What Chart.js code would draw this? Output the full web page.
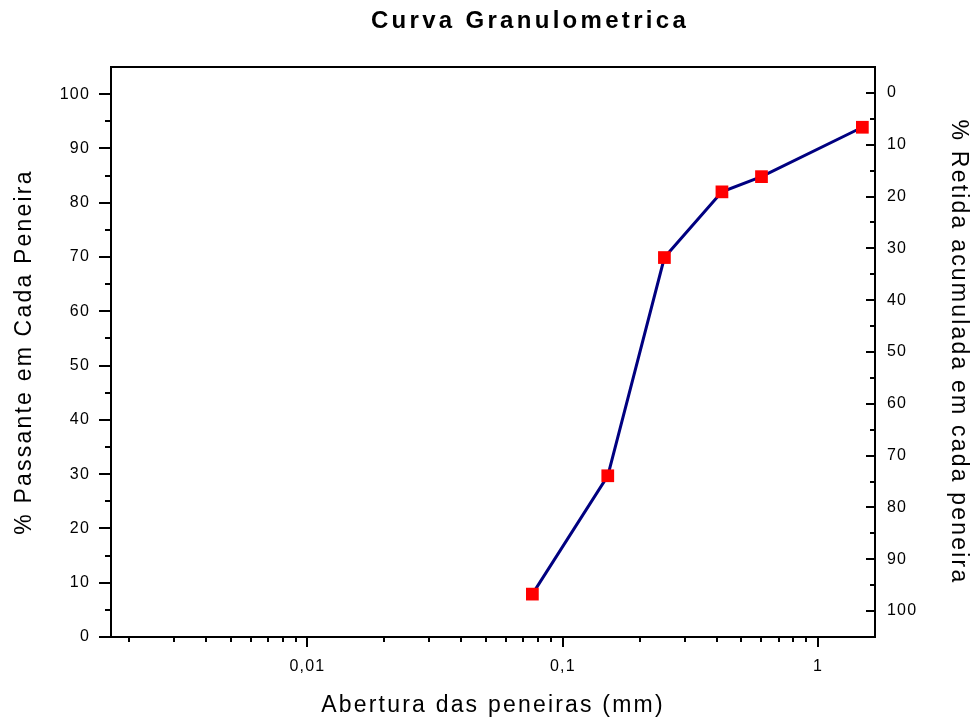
<!DOCTYPE html>
<html>
<head>
<meta charset="utf-8">
<style>
  html, body { margin: 0; padding: 0; background: #ffffff; }
  canvas { display: block; }
</style>
<script src="https://cdn.jsdelivr.net/npm/chart.js@4/dist/chart.umd.min.js"></script>
</head>
<body>
<canvas id="c" width="973" height="721"></canvas>
<script>
// ---- data ----
const chartTitle = 'Curva Granulometrica';
const xTitle = 'Abertura das peneiras (mm)';
const yLeftTitle = '% Passante em Cada Peneira';
const yRightTitle = '% Retida acumulada em cada peneira';

const aberturas = [0.076, 0.15, 0.25, 0.42, 0.6, 1.49];
const passante  = [7.9, 29.7, 69.9, 82.0, 84.8, 93.9];

const xTickValues = [0.01, 0.1, 1];
const xTickLabels = ['0,01', '0,1', '1'];
const xMinorValues = [0.002, 0.003, 0.004, 0.005, 0.006, 0.007, 0.008, 0.009,
                      0.02, 0.03, 0.04, 0.05, 0.06, 0.07, 0.08, 0.09,
                      0.2, 0.3, 0.4, 0.5, 0.6, 0.7, 0.8, 0.9];
const yTickValues = [0, 10, 20, 30, 40, 50, 60, 70, 80, 90, 100];
const yMinorValues = [5, 15, 25, 35, 45, 55, 65, 75, 85, 95];

// ---- styling ----
const FONT = '"Liberation Sans", Arial, Helvetica, sans-serif';
const INK = '#000000';

const framePlugin = {
  id: 'frameAndTicks',
  beforeDatasetsDraw(chart) {
    const { ctx, chartArea: a, scales } = chart;
    ctx.save();
    ctx.strokeStyle = INK;
    ctx.lineWidth = 2;
    ctx.strokeRect(a.left, a.top, a.right - a.left, a.bottom - a.top);
    const seg = (x1, y1, x2, y2) => { ctx.beginPath(); ctx.moveTo(x1, y1); ctx.lineTo(x2, y2); ctx.stroke(); };
    xTickValues.forEach(v => { const x = Math.round(scales.x.getPixelForValue(v)); seg(x, a.bottom, x, a.bottom + 10); });
    xMinorValues.forEach(v => { const x = Math.round(scales.x.getPixelForValue(v)); seg(x, a.bottom, x, a.bottom + 5); });
    yTickValues.forEach(v => { const y = Math.round(scales.y.getPixelForValue(v)); seg(a.left - 12, y, a.left, y); });
    yMinorValues.forEach(v => { const y = Math.round(scales.y.getPixelForValue(v)); seg(a.left - 6, y, a.left, y); });
    yTickValues.forEach(v => { const y = Math.round(scales.y2.getPixelForValue(v)); seg(a.right - 9, y, a.right, y); });
    yMinorValues.forEach(v => { const y = Math.round(scales.y2.getPixelForValue(v)); seg(a.right - 5, y, a.right, y); });
    ctx.restore();
  }
};

const spacingPlugin = {
  id: 'spacing',
  afterLayout(chart) {
    const ctx = chart.ctx;
    const wrap = (obj, name, sp) => {
      const f = obj[name];
      if (!f || f.__wrapped) return;
      const g = function (...args) {
        ctx.save();
        ctx.letterSpacing = sp;
        const r = f.apply(this, args);
        ctx.restore();
        return r;
      };
      g.__wrapped = true;
      obj[name] = g;
    };
    Object.values(chart.scales).forEach(s => {
      wrap(s, 'drawLabels', '1.2px');
      wrap(s, 'drawTitle', '2.2px');
    });
    if (chart.titleBlock) {
      chart.titleBlock.left += 87;
      wrap(chart.titleBlock, 'draw', '3.3px');
    }
  }
};

const tickFont = { family: FONT, size: 16 };
const titleFont = { family: FONT, size: 23, lineHeight: 1.2 };

new Chart(document.getElementById('c'), {
  type: 'line',
  data: {
    datasets: [{
      label: yLeftTitle,
      data: aberturas.map((x, i) => ({ x: x, y: passante[i] })),
      borderColor: '#000080',
      borderWidth: 3,
      backgroundColor: '#ff0000',
      pointStyle: 'rect',
      pointRadius: 9,
      pointBorderWidth: 0,
      pointBackgroundColor: '#ff0000',
      pointBorderColor: '#ff0000',
      tension: 0,
      fill: false,
      yAxisID: 'y',
      xAxisID: 'x'
    }]
  },
  options: {
    responsive: false,
    animation: false,
    layout: { padding: 0 },
    plugins: {
      legend: { display: false },
      tooltip: { enabled: false },
      title: {
        display: true,
        text: chartTitle,
        color: INK,
        font: { family: FONT, size: 24, weight: 'bold', lineHeight: 1.2 },
        padding: { top: 6.6, bottom: 31.6 }
      }
    },
    scales: {
      x: {
        type: 'logarithmic',
        position: 'bottom',
        min: 0.0017,
        max: 1.67,
        grid: { display: false, drawTicks: false },
        border: { display: false },
        afterBuildTicks: s => { s.ticks = xTickValues.map(v => ({ value: v })); },
        ticks: {
          autoSkip: false, maxRotation: 0, minRotation: 0,
          color: INK, font: tickFont, padding: 20,
          callback: (v) => { const i = xTickValues.indexOf(v); return i >= 0 ? xTickLabels[i] : ''; }
        },
        title: { display: true, text: xTitle, color: INK, font: titleFont, padding: { top: 0, bottom: 1.2 } },
        afterFit: s => { s.height = 84; }
      },
      y: {
        type: 'linear',
        position: 'left',
        min: 0,
        max: 105,
        grid: { display: false, drawTicks: false },
        border: { display: false },
        afterBuildTicks: s => { s.ticks = yTickValues.map(v => ({ value: v })); },
        ticks: { color: INK, font: tickFont, padding: 21 },
        title: { display: true, text: yLeftTitle, color: INK, font: titleFont, padding: { top: 11.2, bottom: 0 } },
        afterFit: s => { s.width = 111; }
      },
      y2: {
        type: 'linear',
        position: 'right',
        min: -5,
        max: 105,
        reverse: true,
        grid: { display: false, drawTicks: false },
        border: { display: false },
        afterBuildTicks: s => { s.ticks = yTickValues.map(v => ({ value: v })); },
        ticks: { color: INK, font: tickFont, padding: 12 },
        title: { display: true, text: yRightTitle, color: INK, font: titleFont, padding: { top: 1.2, bottom: 0 } },
        afterFit: s => { s.width = 98; }
      }
    }
  },
  plugins: [framePlugin, spacingPlugin]
});
</script>
</body>
</html>
